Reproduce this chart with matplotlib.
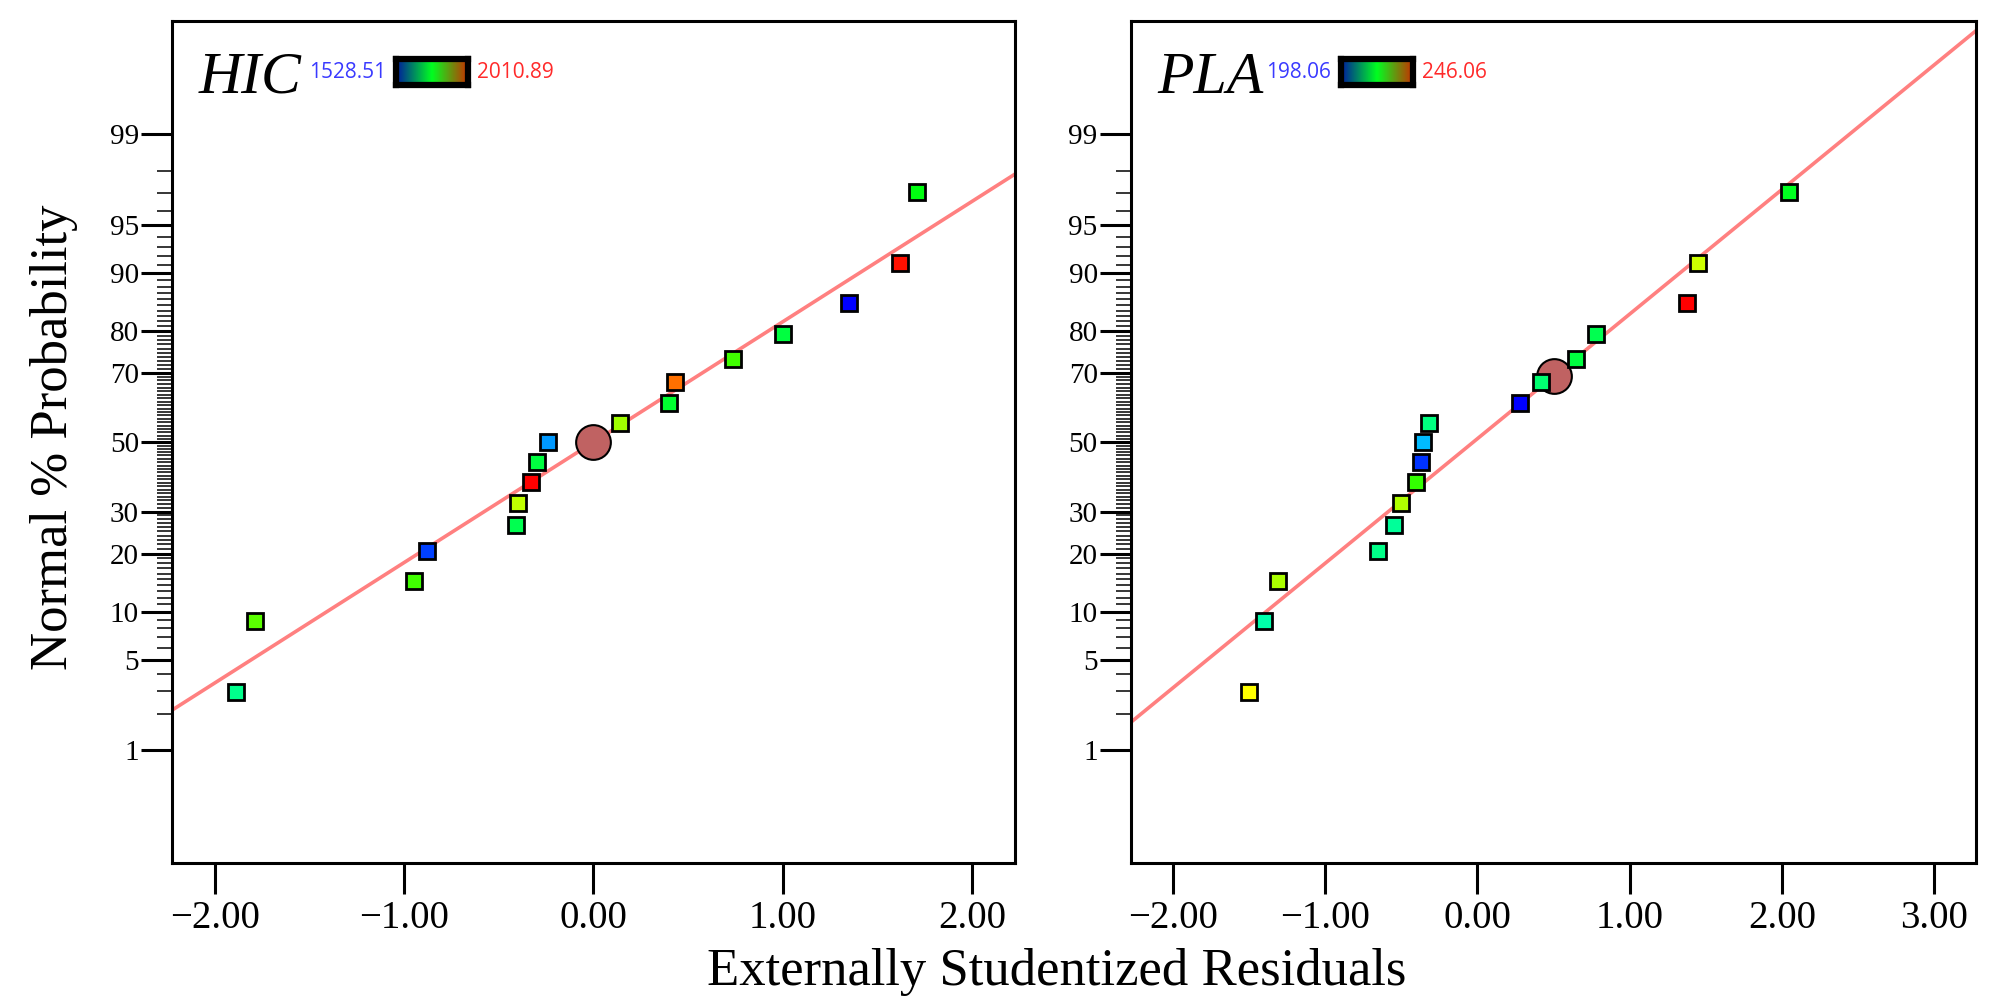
import matplotlib
matplotlib.use('Agg')
import matplotlib.pyplot as plt
import numpy as np
from statistics import NormalDist
from matplotlib.colors import LinearSegmentedColormap

# percent positions shared by both normal plots (17 runs)
prob = [2.94, 8.82, 14.71, 20.59, 26.47, 32.35, 38.24, 44.12, 50.00,
        55.88, 61.76, 67.65, 73.53, 79.41, 85.29, 91.18, 97.06]

# HIC
hic_resid = [-1.89, -1.79, -0.95, -0.88, -0.41, -0.40, -0.33, -0.30, -0.24,
             0.14, 0.40, 0.43, 0.74, 1.00, 1.35, 1.62, 1.71]
hic_colors = ['#00ff8c', '#5aff00', '#40ff00', '#0040ff', '#00ff50', '#c0ff00',
              '#ff0000', '#00ff40', '#0099ff', '#a0ff00', '#00ff30', '#ff7000',
              '#40ff00', '#00ff40', '#0000ff', '#ff1000', '#00ff10']
hic_fit = (0.91, 0.0)          # slope, intercept (z units)
hic_center = (0.0, 50.0)
hic_range = ('1528.51', '2010.89')
hic_xlim = (-2.225, 2.225)
hic_xticks = [-2, -1, 0, 1, 2]

# PLA
pla_resid = [-1.50, -1.40, -1.31, -0.65, -0.55, -0.50, -0.40, -0.37, -0.36,
             -0.32, 0.28, 0.42, 0.65, 0.78, 1.38, 1.45, 2.05]
pla_colors = ['#ffff00', '#00ffaa', '#aaff00', '#00ff88', '#00ff99', '#b0ff00',
              '#33ff00', '#0033ff', '#00bbff', '#00ff80', '#0000ff', '#00ff70',
              '#00ff40', '#00ff50', '#ff0000', '#ccff00', '#00ff20']
pla_fit = (0.942, 0.026)
pla_center = (0.505, 69.1)
pla_range = ('198.06', '246.06')
pla_xlim = (-2.275, 3.275)
pla_xticks = [-2, -1, 0, 1, 2, 3]

prob_major = [1, 5, 10, 20, 30, 50, 70, 80, 90, 95, 99]
prob_minor = list(range(1, 100))

nd = NormalDist()
ppf = np.vectorize(nd.inv_cdf, otypes=[float])
cdf = np.vectorize(nd.cdf, otypes=[float])


def fwd(p):
    p = np.clip(np.asarray(p, float) / 100.0, 1e-9, 1 - 1e-9)
    return ppf(p)


def inv(z):
    return cdf(np.asarray(z, float)) * 100.0


serif = 'Liberation Serif'
grad = LinearSegmentedColormap.from_list('g', ['#0018a0', '#00ff20', '#c83000'])

fig = plt.figure(figsize=(20.01, 10.06), dpi=100)
ax1 = fig.add_axes([0.0861, 0.1417, 0.4209, 0.8375])
ax2 = fig.add_axes([0.5652, 0.1417, 0.4223, 0.8375])


def panel(ax, name, resid, colors, fit, center, rng, xlim, xticks, cb_x):
    ax.set_yscale('function', functions=(fwd, inv))
    ax.set_xlim(*xlim)
    ax.set_ylim(inv(-3.185), inv(3.185))

    xs = np.array(xlim)
    ax.plot(xs, inv(fit[0] * xs + fit[1]), color='#ff8080', lw=2.6, zorder=1)
    ax.plot([center[0]], [center[1]], 'o', ms=25, mfc='#c06262', mec='black',
            mew=1.5, zorder=2)
    for x, p, c in zip(resid, prob, colors):
        ax.plot(x, p, 's', ms=11, mfc=c, mec='black', mew=2, zorder=3)

    ax.set_xticks(xticks)
    ax.set_xticklabels([('%.2f' % t).replace('-', '\u2212') for t in xticks])
    ax.set_yticks(prob_major)
    ax.set_yticklabels([str(p) for p in prob_major])
    ax.set_yticks(prob_minor, minor=True)
    ax.tick_params(axis='both', which='major', direction='out', length=22,
                   width=2.2, color='black')
    ax.tick_params(axis='y', which='minor', direction='out', length=11,
                   width=1.1)
    ax.tick_params(axis='x', which='major', pad=4, labelsize=28)
    ax.tick_params(axis='y', which='major', pad=2, labelsize=21)
    for lab in ax.get_xticklabels() + ax.get_yticklabels():
        lab.set_family(serif)
    for s in ax.spines.values():
        s.set_linewidth(2.2)

    ax.text(0.031, 0.9145, name, transform=ax.transAxes, family=serif,
            style='italic', fontsize=43, va='baseline', ha='left')
    cax = ax.inset_axes([cb_x, 0.924, 0.085, 0.031])
    cax.imshow(np.linspace(0, 1, 256)[None, :], aspect='auto', cmap=grad)
    cax.set_xticks([])
    cax.set_yticks([])
    for s in cax.spines.values():
        s.set_linewidth(4.5)
    ax.text(cb_x - 0.012, 0.932, rng[0], transform=ax.transAxes,
            family='Open Sans', fontsize=15, color='#3a3aff',
            ha='right', va='baseline')
    ax.text(cb_x + 0.085 + 0.011, 0.932, rng[1], transform=ax.transAxes,
            family='Open Sans', fontsize=15, color='#ff2a2a',
            ha='left', va='baseline')


panel(ax1, 'HIC', hic_resid, hic_colors, hic_fit, hic_center, hic_range,
      hic_xlim, hic_xticks, 0.266)
panel(ax2, 'PLA', pla_resid, pla_colors, pla_fit, pla_center, pla_range,
      pla_xlim, pla_xticks, 0.2487)

fig.text(0.528, 0.021, 'Externally Studentized Residuals', family=serif,
         fontsize=38, ha='center', va='baseline')
fig.text(0.027, 0.5656, 'Normal % Probability', family=serif, fontsize=38,
         rotation=90, ha='center', va='center')

fig.savefig('out.png', dpi=100)
